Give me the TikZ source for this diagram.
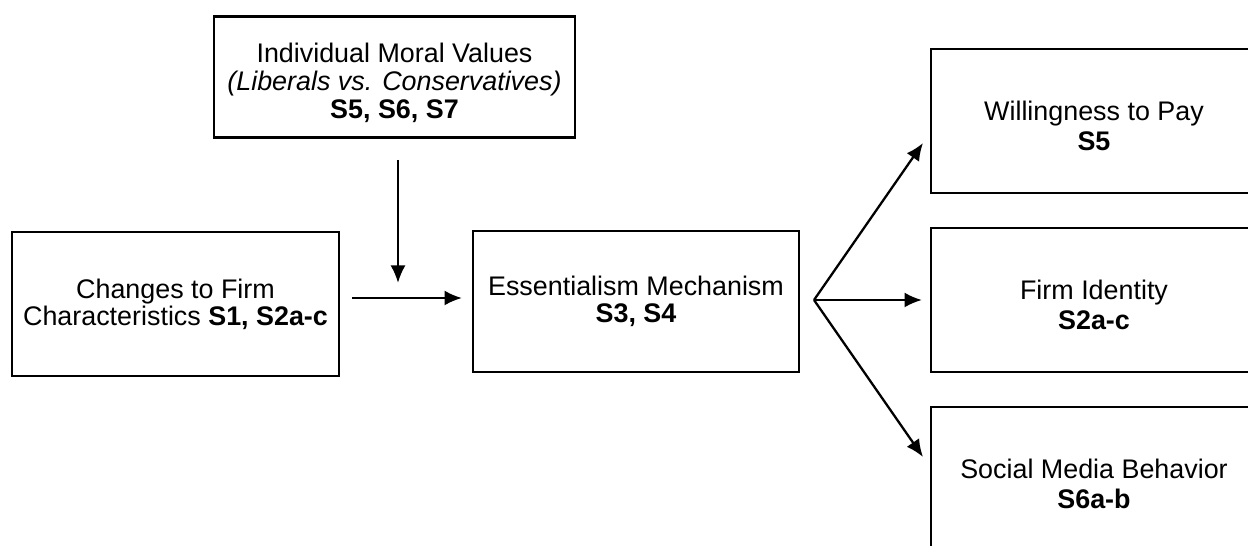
\documentclass[tikz,border=0pt]{standalone}
\usepackage{fontspec}
\setmainfont{Liberation Sans}
\usetikzlibrary{arrows.meta}

\begin{document}
\begin{tikzpicture}[x=0.02cm,y=-0.02cm,->,>={Latex[length=3.5mm,width=3mm]},line width=1.3pt,main node/.style={draw,rectangle,align=center,inner sep=0pt,font=\fontsize{15.3}{15.3}\selectfont},box node/.style={main node,minimum width=6.52cm,minimum height=2.88cm},out node/.style={box node,font=\fontsize{15.3}{17.3}\selectfont}]
            \clip (0,0) rectangle (1248,546);
            \node[main node,minimum width=7.22cm,minimum height=2.42cm,font=\fontsize{15.3}{15.9}\selectfont] (1) at (394.5,77) {\rule{0pt}{18.1pt}Individual Moral Values\\\textit{(Liberals vs. Conservatives)}\\\textbf{S5, S6, S7}};
            \node[box node,minimum width=6.54cm] (2) at (175.5,304) {Changes to Firm\\Characteristics \textbf{S1, S2a-c}};
            \node[box node,minimum height=2.82cm] (3) at (636,301.5) {Essentialism Mechanism\\\textbf{S3, S4}};
            \node[out node] (4) at (1094,121) {\rule{0pt}{17pt}Willingness to Pay\\\textbf{S5}};
            \node[out node] (5) at (1094,300) {\rule{0pt}{17pt}Firm Identity\\\textbf{S2a-c}};
            \node[out node] (6) at (1094,479) {\rule{0pt}{17pt}Social Media Behavior\\\textbf{S6a-b}};
            % free ends of the arrows
            \coordinate (a) at (398,160);
            \coordinate (b) at (398,283);
            \coordinate (c) at (352,298);
            \coordinate (d) at (462,298);
            \coordinate (f) at (814,300);
            \coordinate (t4) at (923,143);
            \coordinate (t5) at (922,300);
            \coordinate (t6) at (923,457);
            \path
                (a) edge (b)
                (c) edge (d)
                (f) edge (t4)
                (f) edge (t5)
                (f) edge (t6)
            ;

        \end{tikzpicture}
\end{document}
